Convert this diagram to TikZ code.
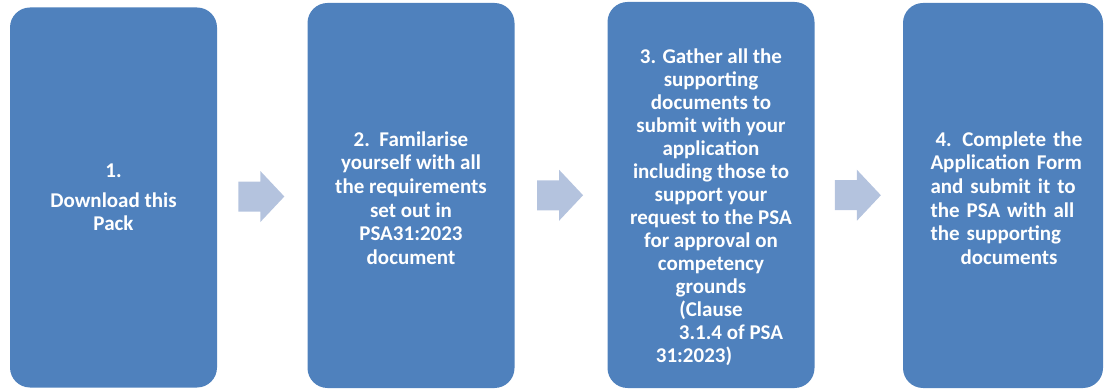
\documentclass[tikz,border=0pt]{standalone}
\usepackage{fontspec}
\setmainfont{Carlito}
\definecolor{boxblue}{HTML}{4F81BD}
\definecolor{arrowblue}{HTML}{B4C3DE}
\begin{document}
\begin{tikzpicture}[x=1pt,y=-1pt,
  stepbox/.style={rectangle, fill=boxblue, rounded corners=20pt, inner sep=0pt,
    minimum width=207pt, minimum height=380pt},
  steptext/.style={text=white, inner sep=0pt, align=center,
    font=\fontsize{21}{23.7}\selectfont\bfseries},
  blockarrow/.style={fill=arrowblue}]
\useasboundingbox (0,0) rectangle (1104,390);

% the four step boxes
\node[stepbox] (s1) at (113.5,197.5) {};
\node[stepbox, minimum height=385pt] (s2) at (411,195.5) {};
\node[stepbox, minimum height=386pt] (s3) at (711,195) {};
\node[stepbox, minimum width=200pt, minimum height=385pt] (s4) at (1003,195.5) {};

% step texts
\node[steptext] (t1) at (s1.center)
  {1.\\[6pt] Download this\\ Pack};
\node[steptext] (t2) at ([yshift=-2.5pt]s2.center)
  {2.\ \ Familarise\\ yourself with all\\ the requirements\\ set out in\\ PSA31:2023\\ document};
\node[steptext, font=\fontsize{21}{23}\selectfont\bfseries] (t3) at ([yshift=-12.5pt]s3.center)
  {3. Gather all the\\ supporting\\ documents to\\ submit with your\\ application\\
   including those to\\ support your\\ request to the PSA\\ for approval on\\ competency\\
   grounds\\ (Clause\\ \mbox{\hspace{40pt}3.1.4 of PSA}\\ \mbox{31:2023)\hspace{34pt}}};
\node[steptext, align=left, text width=151pt] (t4) at ([xshift=3pt,yshift=-2.5pt]s4.center)
  {\hspace*{5pt}\makebox[146pt][s]{4. Complete the}\\
   \makebox[151pt][s]{Application Form}\\
   \makebox[151pt][s]{and submit it to}\\
   \makebox[151pt][s]{the PSA with all}\\
   the supporting\\
   \hspace*{30pt}documents};

% block arrows between the steps
\foreach \a/\b in {s1/s2, s2/s3, s3/s4} {
  \path (\a.east) -- (\b.west) coordinate[pos=0.49] (m);
  \fill[blockarrow, shift={(m)}]
    (-23,-15) -- (-1,-15) -- (-1,-25.5) -- (23,0) -- (-1,25.5) -- (-1,15) -- (-23,15) -- cycle;
}
\end{tikzpicture}
\end{document}
